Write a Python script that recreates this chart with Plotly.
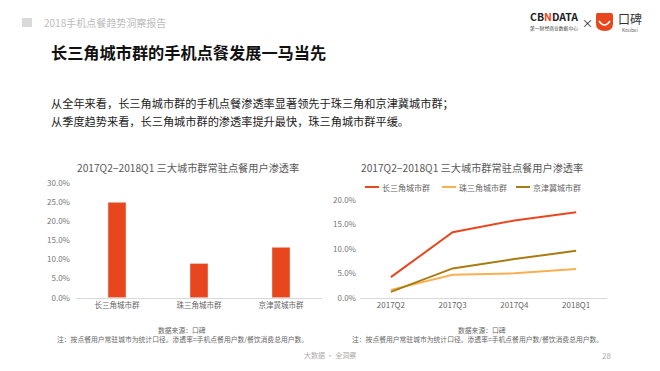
import plotly.graph_objects as go

# ---- data ----
bar_categories = ["长三角城市群", "珠三角城市群", "京津冀城市群"]
bar_values = [0.250, 0.090, 0.132]

quarters = ["2017Q2", "2017Q3", "2017Q4", "2018Q1"]
series_names = ["长三角城市群", "珠三角城市群", "京津冀城市群"]
yrd_values = [0.042, 0.134, 0.158, 0.175]
prd_values = [0.016, 0.047, 0.050, 0.059]
bth_values = [0.012, 0.060, 0.079, 0.096]

left_ticks = [0, 0.05, 0.10, 0.15, 0.20, 0.25, 0.30]
right_ticks = [0, 0.05, 0.10, 0.15, 0.20]

W, H = 660, 371
FONT = "Noto Sans CJK SC"
line_colors = ["#E8481F", "#F9B050", "#A87C12"]

def px(x):
    return x / W

def py(y):
    return 1 - y / H

fig = go.Figure()

fig.add_trace(go.Bar(
    x=bar_categories, y=bar_values, marker_color="#E8471E",
    width=0.22, xaxis="x", yaxis="y", showlegend=False,
))

for name, vals, col in zip(series_names, [yrd_values, prd_values, bth_values], line_colors):
    fig.add_trace(go.Scatter(
        x=quarters, y=vals, mode="lines", name=name, showlegend=False,
        line=dict(color=col, width=2), xaxis="x2", yaxis="y2",
    ))

axis_common = dict(showgrid=False, zeroline=False, ticks="", fixedrange=True, automargin=False)

fig.update_layout(
    width=W, height=H,
    margin=dict(l=0, r=0, t=0, b=0),
    paper_bgcolor="white", plot_bgcolor="white",
    font=dict(family=FONT, color="#666666"),
    xaxis=dict(domain=[px(76), px(322)], anchor="y", showline=True,
               linecolor="#d9d9d9", linewidth=1,
               tickfont=dict(size=7.5, color="#666666"), **axis_common),
    yaxis=dict(domain=[py(297.7), py(183.3)], anchor="x", range=[0, 0.30],
               tickvals=left_ticks, tickformat=".1%", showline=False,
               ticklabelstandoff=5,
               tickfont=dict(size=8, color="#777777"), **axis_common),
    xaxis2=dict(domain=[px(360), px(607)], anchor="y2", showline=True,
                linecolor="#d9d9d9", linewidth=1, range=[-0.5, 3.5],
                tickfont=dict(size=8, color="#666666"), **axis_common),
    yaxis2=dict(domain=[py(297.7), py(200)], anchor="x2", range=[0, 0.20],
                tickvals=right_ticks, tickformat=".1%", showline=False,
                ticklabelstandoff=3,
                tickfont=dict(size=8, color="#777777"), **axis_common),
    showlegend=False,
)

ann = []
def text(x, y, s, size, color, xanchor="left", bold=False):
    if bold:
        s = "<b>" + s + "</b>"
    ann.append(dict(x=px(x), y=py(y), xref="paper", yref="paper", text=s,
                    showarrow=False, xanchor=xanchor, yanchor="middle",
                    font=dict(size=size, color=color, family=FONT)))

text(42, 22, "2018手机点餐趋势洞察报告", 10, "#bdbdbd")
text(49, 52, "长三角城市群的手机点餐发展一马当先", 16.2, "#111111", bold=True)
text(49, 103, "从全年来看，长三角城市群的手机点餐渗透率显著领先于珠三角和京津冀城市群；", 11.2, "#222222")
text(49, 121, "从季度趋势来看，长三角城市群的渗透率提升最快，珠三角城市群平缓。", 11.2, "#222222")
text(188, 167, "2017Q2−2018Q1 三大城市群常驻点餐用户渗透率", 10.2, "#595959", xanchor="center")
text(472, 167, "2017Q2−2018Q1 三大城市群常驻点餐用户渗透率", 10.2, "#595959", xanchor="center")
text(182, 330, "数据来源：口碑", 6.8, "#666666", xanchor="center")
text(182, 339, "注：按点餐用户常驻城市为统计口径。渗透率=手机点餐用户数/餐饮消费总用户数。", 6.8, "#666666", xanchor="center")
text(482, 330, "数据来源：口碑", 6.8, "#666666", xanchor="center")
text(477, 339, "注：按点餐用户常驻城市为统计口径。渗透率=手机点餐用户数/餐饮消费总用户数。", 6.8, "#666666", xanchor="center")
text(330, 355, "大数据 · 全洞察", 7, "#aaaaaa", xanchor="center")
text(606, 355, "28", 8, "#aaaaaa", xanchor="center")

# manual legend for the line chart
legend_x = [365, 442, 516]
shapes = []
for name, col, lx in zip(series_names, line_colors, legend_x):
    shapes.append(dict(type="line", xref="paper", yref="paper",
                       x0=px(lx), x1=px(lx + 14), y0=py(187), y1=py(187),
                       line=dict(color=col, width=2)))
    text(lx + 15, 187, name, 8, "#666666")

# logo texts
text(554, 16.5, "<b>CB<span style='color:#E8471E'>N</span>DATA</b>", 10.5, "#222222", xanchor="center")
text(554, 27.5, "第一财经商业数据中心", 4.8, "#444444", xanchor="center")
text(587, 23, "×", 11, "#222222", xanchor="center")
text(630, 18.5, "口碑", 12, "#333333", xanchor="center")
text(630, 30, "Koubei", 4.8, "#666666", xanchor="center")
fig.update_layout(annotations=ann)

shapes += [
    dict(type="rect", xref="paper", yref="paper", x0=px(22), x1=px(32), y0=py(27), y1=py(18),
         fillcolor="#d9d9d9", line=dict(width=0)),
    dict(type="path", xref="paper", yref="paper",
         path=f"M {px(597)},{py(13)} L {px(611)},{py(13)} Q {px(613)},{py(13)} {px(613)},{py(16)} "
              f"L {px(613)},{py(24)} Q {px(613)},{py(31)} {px(605)},{py(31)} "
              f"Q {px(596)},{py(31)} {px(596)},{py(24)} L {px(596)},{py(16)} Q {px(596)},{py(13)} {px(597)},{py(13)} Z",
         fillcolor="#E8471E", line=dict(width=0)),
    dict(type="path", xref="paper", yref="paper",
         path=f"M {px(599)},{py(21)} Q {px(604.5)},{py(29)} {px(610)},{py(21)}",
         line=dict(color="white", width=1.5)),
]
fig.update_layout(shapes=shapes)

fig.write_html("out.html", config={"displayModeBar": False, "staticPlot": True},
               post_script="document.body.style.margin='0';document.body.style.overflow='hidden';")
